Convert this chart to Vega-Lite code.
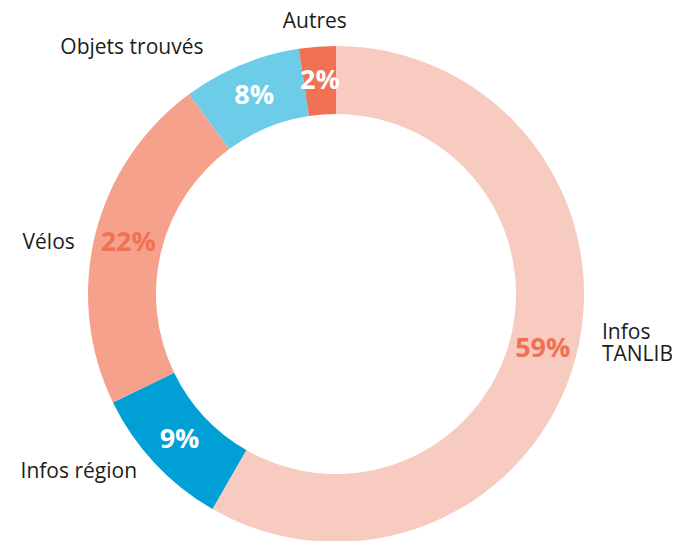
{
  "$schema": "https://vega.github.io/schema/vega-lite/v6.json",
  "width": 672,
  "height": 588,
  "autosize": "none",
  "padding": 0,
  "background": "white",
  "config": {"view": {"stroke": null}, "text": {"font": "Open Sans"}},
  "data": {
    "values": [
      {"idx": 1, "cat": "Infos TANLIB", "label": "Infos\nTANLIB", "pct": "59%", "value": 0.583},
      {"idx": 2, "cat": "Infos région", "label": "Infos région", "pct": "9%", "value": 0.095},
      {"idx": 3, "cat": "Vélos", "label": "Vélos", "pct": "22%", "value": 0.221},
      {"idx": 4, "cat": "Objets trouvés", "label": "Objets trouvés", "pct": "8%", "value": 0.077},
      {"idx": 5, "cat": "Autres", "label": "Autres", "pct": "2%", "value": 0.024}
    ]
  },
  "encoding": {
    "theta": {"field": "value", "type": "quantitative", "stack": true},
    "order": {"field": "idx", "type": "quantitative", "sort": "ascending"}
  },
  "layer": [
    {
      "mark": {"type": "arc", "outerRadius": 248, "innerRadius": 180},
      "encoding": {
        "color": {
          "field": "cat", "type": "nominal", "legend": null,
          "scale": {
            "domain": ["Infos TANLIB", "Infos région", "Vélos", "Objets trouvés", "Autres"],
            "range": ["#F7CBBF", "#009FD6", "#F5A18B", "#6DCDE8", "#F07154"]
          }
        }
      }
    },
    {
      "mark": {"type": "text", "radius": 214, "fontSize": 27, "fontWeight": "bold", "baseline": "middle", "align": "center", "letterSpacing": 0.5},
      "encoding": {
        "text": {"field": "pct", "type": "nominal"},
        "color": {
          "condition": {"test": "datum.cat === 'Infos TANLIB' || datum.cat === 'Vélos'", "value": "#F07154"},
          "value": "white"
        }
      }
    },
    {
      "mark": {"type": "text", "radius": 268, "fontSize": 21, "fontWeight": 500, "letterSpacing": 0.6, "align": "left", "baseline": "middle", "dx": 7, "dy": -30, "lineBreak": "\n", "lineHeight": 22, "color": "#1d1d1b"},
      "encoding": {"text": {"condition": {"test": "datum.cat === 'Infos TANLIB'", "field": "label"}, "value": ""}}
    },
    {
      "mark": {"type": "text", "radius": 268, "fontSize": 21, "fontWeight": 500, "letterSpacing": 0.6, "align": "right", "baseline": "middle", "dx": -3, "dy": -5, "color": "#1d1d1b"},
      "encoding": {"text": {"condition": {"test": "datum.cat === 'Infos région'", "field": "label"}, "value": ""}}
    },
    {
      "mark": {"type": "text", "radius": 268, "fontSize": 21, "fontWeight": 500, "letterSpacing": 0.6, "align": "right", "baseline": "middle", "dx": -1, "dy": 13, "color": "#1d1d1b"},
      "encoding": {"text": {"condition": {"test": "datum.cat === 'Vélos'", "field": "label"}, "value": ""}}
    },
    {
      "mark": {"type": "text", "radius": 268, "fontSize": 21, "fontWeight": 500, "letterSpacing": 0.6, "align": "right", "baseline": "middle", "dx": -30, "dy": 2, "color": "#1d1d1b"},
      "encoding": {"text": {"condition": {"test": "datum.cat === 'Objets trouvés'", "field": "label"}, "value": ""}}
    },
    {
      "mark": {"type": "text", "radius": 268, "fontSize": 21, "fontWeight": 500, "letterSpacing": 0.6, "align": "center", "baseline": "middle", "dx": -1, "dy": -5, "color": "#1d1d1b"},
      "encoding": {"text": {"condition": {"test": "datum.cat === 'Autres'", "field": "label"}, "value": ""}}
    }
  ]
}
